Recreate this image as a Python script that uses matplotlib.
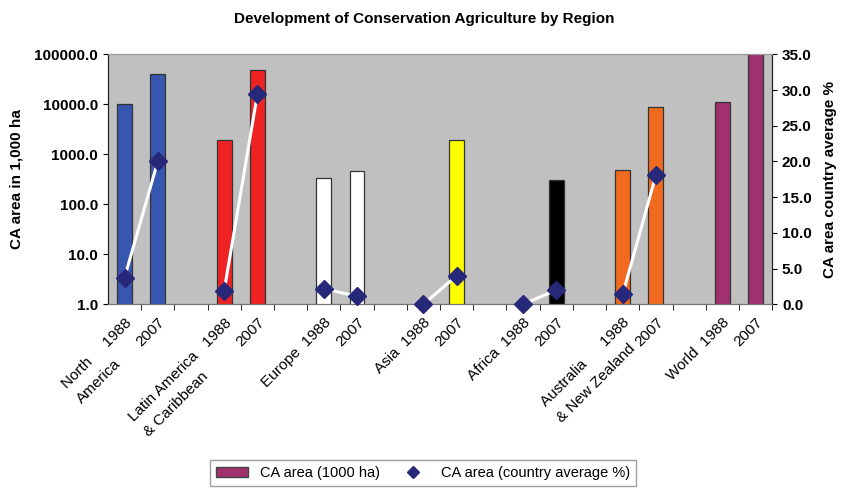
from matplotlib import pyplot as plt
from matplotlib.lines import Line2D
from matplotlib.patches import Patch
import numpy as np

plt.rcParams['font.family'] = ['Liberation Sans', 'DejaVu Sans']

regions = ["North America", "Latin America & Caribbean", "Europe", "Asia",
           "Africa", "Australia & New Zealand", "World"]
area_1988 = [10000, 1900, 340, 0, 0, 480, 11300]     # 1000 ha
area_2007 = [40000, 49000, 470, 1950, 305, 8900, 105000]
pct_1988 = [3.7, 1.9, 2.2, 0.0, 0.0, 1.4, None]      # country average %
pct_2007 = [20.0, 29.4, 1.1, 4.0, 2.0, 18.1, None]
tick_labels = ["North     1988\nAmerica", "2007", "",
               "Latin America   1988\n& Caribbean", "2007", "",
               "Europe  1988", "2007", "",
               "Asia  1988", "2007", "",
               "Africa  1988", "2007", "",
               "Australia      1988\n& New Zealand", "2007", "",
               "World  1988", "2007"]
colors = ["#3656B0", "#EE2222", "#FFFFFF", "#FFFF00", "#000000", "#F26A1F", "#A0306E"]

fig = plt.figure(figsize=(8.43, 4.9), dpi=100)
ax = fig.add_axes([0.128, 0.379, 0.788, 0.510])
ax.set_facecolor("#C0C0C0")
ax2 = ax.twinx()

w = 0.45
for i in range(len(regions)):
    x0 = 3 * i
    for x, v in [(x0, area_1988[i]), (x0 + 1, area_2007[i])]:
        if v > 0:
            ax.bar(x, v, width=w, color=colors[i], edgecolor="#333333", linewidth=0.9, zorder=2)
    if pct_1988[i] is not None:
        ax2.plot([x0, x0 + 1], [pct_1988[i], pct_2007[i]], color="white", lw=2.2,
                 marker="D", markersize=9, markerfacecolor="#27287A",
                 markeredgecolor="#27287A", clip_on=False, zorder=3)

ax.set_yscale("log")
ax.set_ylim(1, 100000)
ax.set_yticks([1, 10, 100, 1000, 10000, 100000])
ax.set_yticklabels(["%.1f" % t for t in [1, 10, 100, 1000, 10000, 100000]],
                   fontweight="bold", fontsize=11)
ax.minorticks_off()
ax.set_xlim(-0.5, 19.5)
ax.set_xticks(np.arange(20))
ax.set_xticklabels(tick_labels, rotation=45, ha="right", va="top",
                   rotation_mode="anchor", fontsize=11, multialignment="left",
                   linespacing=1.7)
ax.tick_params(axis="x", which="major", length=0, pad=8)
ax.set_xticks(np.arange(20) + 0.5, minor=True)
ax.tick_params(axis="x", which="minor", length=4)

ax2.set_ylim(0, 35)
ax2.set_yticks(np.arange(0, 36, 5))
ax2.set_yticklabels(["%.1f" % t for t in np.arange(0, 36, 5)],
                    fontweight="bold", fontsize=11)

for a in (ax, ax2):
    a.spines["top"].set_color("#999999")
    a.spines["left"].set_color("#222222")
    a.spines["right"].set_color("#222222")
    a.spines["bottom"].set_color("#777777")

ax.set_ylabel("CA area in 1,000 ha", fontweight="bold", fontsize=11, labelpad=8)
ax2.set_ylabel("CA area country average %", fontweight="bold", fontsize=11, labelpad=8)
fig.text(0.503, 0.962, "Development of Conservation Agriculture by Region",
         ha="center", va="center", fontweight="bold", fontsize=11)

handles = [Patch(facecolor="#A0306E", edgecolor="#444444"),
           Line2D([], [], ls="none", marker="D", markersize=6.5,
                  markerfacecolor="#27287A", markeredgecolor="#27287A")]
fig.legend(handles, ["CA area (1000 ha)", "CA area (country average %)"],
           loc="center", bbox_to_anchor=(0.502, 0.035), ncol=2, fontsize=10.5,
           frameon=True, fancybox=False, edgecolor="#888888",
           handlelength=2.2, columnspacing=1.2, borderpad=0.4)

fig.savefig("out.png", dpi=100)
